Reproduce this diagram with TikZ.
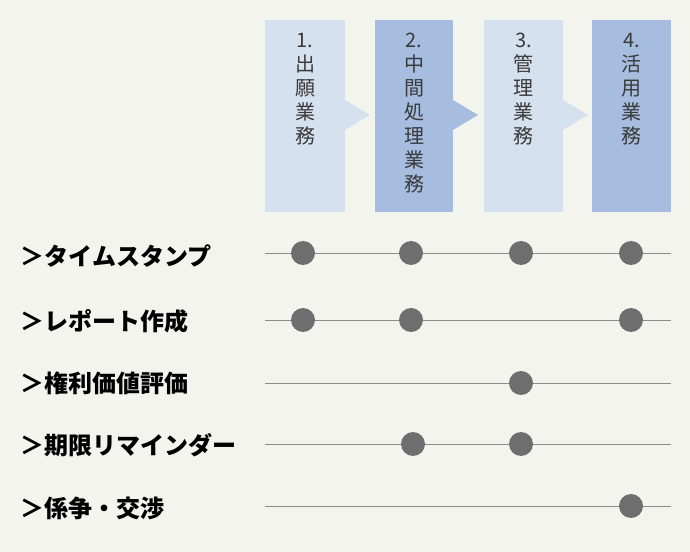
\documentclass[tikz,border=0pt]{standalone}
\usepackage{fontspec}
\setmainfont{Noto Sans CJK JP}
\usetikzlibrary{positioning}
\definecolor{bgc}{HTML}{F4F4EF}
\definecolor{lightc}{HTML}{D6E1F0}
\definecolor{darkc}{HTML}{A6BDE0}
\definecolor{textc}{HTML}{3A3A3A}
\definecolor{dotc}{HTML}{6E6E6E}
\definecolor{linec}{HTML}{8C8C8C}
\tikzset{
  stage/.style={minimum width=60pt, minimum height=144pt, inner sep=0pt, anchor=north},
  stagetext/.style={inner sep=0pt, text=textc, anchor=north,
    font=\fontsize{15pt}{18pt}\selectfont, align=center},
  rowlabel/.style={anchor=west, text=black, font=\fontsize{18pt}{20pt}\selectfont\bfseries},
  mark dot/.style={circle, fill=dotc, minimum size=18pt, inner sep=0pt}
}
\begin{document}
\begin{tikzpicture}[x=0.75pt,y=-0.75pt]
  \fill[bgc] (0,0) rectangle (690,552);
  \useasboundingbox (0,0) rectangle (690,552);

  % stages
  \fill[lightc] (345,100) -- (370,115) -- (345,130) -- cycle;
  \fill[darkc] (453,100) -- (478,115) -- (453,130) -- cycle;
  \fill[lightc] (563,100) -- (588,115) -- (563,130) -- cycle;
  \node[stage, fill=lightc] (s1) at (305,20) {};
  \node[stage, fill=darkc, minimum width=58.5pt] (s2) at (414,20) {};
  \node[stage, fill=lightc, minimum width=59pt] (s3) at (523.5,20) {};
  \node[stage, fill=darkc, minimum width=59pt] (s4) at (631.5,20) {};
  \node[stagetext] (t1) at (305,33) {1.\\出\\願\\業\\務};
  \node[stagetext] (t2) at (414,33) {2.\\中\\間\\処\\理\\業\\務};
  \node[stagetext] (t3) at (523.5,33) {3.\\管\\理\\業\\務};
  \node[stagetext] (t4) at (631.5,33) {4.\\活\\用\\業\\務};

  % rows
  \foreach \y/\txt [count=\i] in {256/＞タイムスタンプ, 321/＞レポート作成,
      383/＞権利価値評価, 445/＞期限リマインダー, 508/＞係争・交渉} {
    \node[rowlabel] (r\i) at (16,\y) {\txt};
  }
  \foreach \y [count=\i] in {253,320,383,444,506} {
    \coordinate (a\i) at (265,\y);
    \coordinate (b\i) at (671,\y);
    \draw[linec, line width=0.6pt] (a\i) -- (b\i);
  }

  \foreach \x/\y in {303/253, 411/253, 521/253, 631/253,
      303/320, 411/320, 631/320, 521/383, 413/444, 521/444, 631/506}
    \node[mark dot] at (\x,\y) {};
\end{tikzpicture}
\end{document}
